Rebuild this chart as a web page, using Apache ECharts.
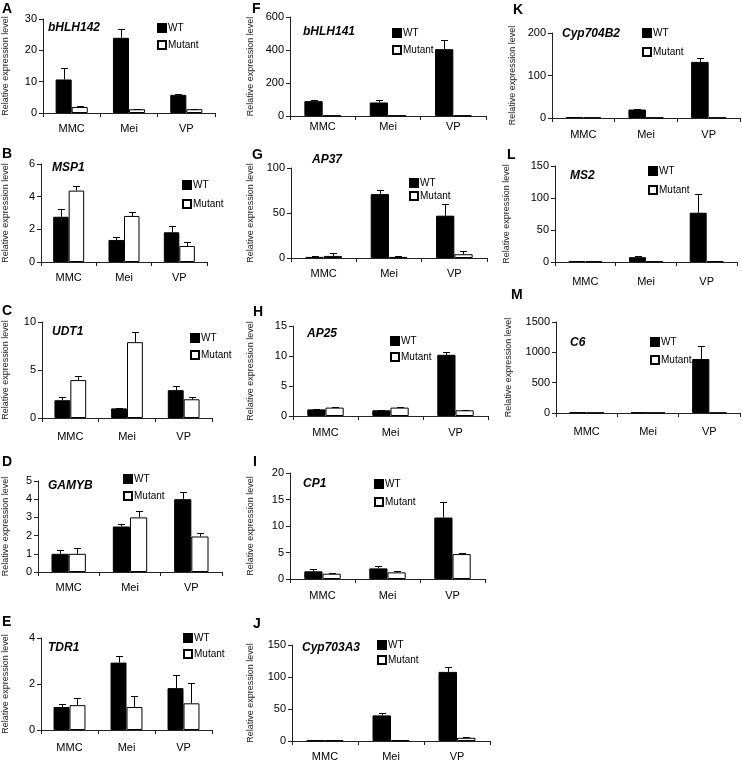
<!DOCTYPE html>
<html><head><meta charset="utf-8">
<script src="https://cdn.jsdelivr.net/npm/echarts@6/dist/echarts.min.js"></script>
<style>html,body{margin:0;padding:0;background:#fff}#c{width:742px;height:763px}</style>
</head><body><div id="c"></div><script>
// ---------- data ----------
const categories = ['MMC', 'Mei', 'VP'];
const seriesNames = ['WT', 'Mutant'];
const yAxisTitle = 'Relative expression level';

const A_gene = 'bHLH142';
const A_wt = [10.7, 24.0, 5.8];   const A_wtErr = [3.8, 2.7, 0.3];
const A_mut = [1.9, 1.2, 1.2];    const A_mutErr = [0.4, 0.1, 0.1];
const A_ticks = [0, 30, 10];

const B_gene = 'MSP1';
const B_wt = [2.77, 1.35, 1.82];  const B_wtErr = [0.45, 0.16, 0.38];
const B_mut = [4.37, 2.82, 0.98]; const B_mutErr = [0.3, 0.22, 0.22];
const B_ticks = [0, 6, 2];

const C_gene = 'UDT1';
const C_wt = [1.85, 1.0, 2.9];    const C_wtErr = [0.3, 0.08, 0.45];
const C_mut = [3.95, 7.9, 1.95];  const C_mutErr = [0.45, 1.05, 0.2];
const C_ticks = [0, 10, 5];

const D_gene = 'GAMYB';
const D_wt = [1.0, 2.5, 4.0];     const D_wtErr = [0.2, 0.15, 0.42];
const D_mut = [1.0, 3.0, 1.95];   const D_mutErr = [0.3, 0.37, 0.18];
const D_ticks = [0, 5, 1];

const E_gene = 'TDR1';
const E_wt = [1.0, 2.93, 1.82];   const E_wtErr = [0.12, 0.3, 0.58];
const E_mut = [1.08, 1.0, 1.16];  const E_mutErr = [0.3, 0.5, 0.87];
const E_ticks = [0, 4, 2];

const F_gene = 'bHLH141';
const F_wt = [90, 82, 405];       const F_wtErr = [5, 18, 58];
const F_mut = [3, 3, 3];          const F_mutErr = [0, 0, 0];
const F_ticks = [0, 600, 200];

const G_gene = 'AP37';
const G_wt = [1.2, 71, 47];       const G_wtErr = [0.8, 4.5, 12.5];
const G_mut = [2.3, 1.2, 4.2];    const G_mutErr = [3, 1.5, 4];
const G_ticks = [0, 100, 50];

const H_gene = 'AP25';
const H_wt = [1.1, 0.95, 10.2];   const H_wtErr = [0.05, 0.05, 0.5];
const H_mut = [1.4, 1.4, 0.95];   const H_mutErr = [0.05, 0.05, 0.12];
const H_ticks = [0, 15, 5];

const I_gene = 'CP1';
const I_wt = [1.45, 2.0, 11.6];   const I_wtErr = [0.35, 0.45, 2.9];
const I_mut = [1.0, 1.25, 4.7];   const I_mutErr = [0.05, 0.25, 0.3];
const I_ticks = [0, 20, 5];

const J_gene = 'Cyp703A3';
const J_wt = [1, 40, 108];        const J_wtErr = [0.3, 3, 8];
const J_mut = [1, 1, 5];          const J_mutErr = [0.2, 0.2, 2];
const J_ticks = [0, 150, 50];

const K_gene = 'Cyp704B2';
const K_wt = [2, 20, 132];        const K_wtErr = [0, 0.5, 9];
const K_mut = [1, 1, 1];          const K_mutErr = [0, 0, 0];
const K_ticks = [0, 200, 100];

const L_gene = 'MS2';
const L_wt = [1.5, 7.5, 77];      const L_wtErr = [0.2, 2, 30];
const L_mut = [1, 1, 1.2];        const L_mutErr = [0, 0, 0];
const L_ticks = [0, 150, 50];

const M_gene = 'C6';
const M_wt = [10, 8, 890];        const M_wtErr = [0, 0, 210];
const M_mut = [5, 5, 5];          const M_mutErr = [0, 0, 0];
const M_ticks = [0, 1500, 500];

// ---------- layout (positions only) ----------
const panels = [
  {L:'A', gene:A_gene, wt:A_wt, we:A_wtErr, mu:A_mut, me:A_mutErr, t:A_ticks, x0:39, x1:215, y1:19, y0:113, nx:6, lx:2, ly:9, gx:48, gy:28, lgx:157, lgy:28, lgs:17, cm:10},
  {L:'B', gene:B_gene, wt:B_wt, we:B_wtErr, mu:B_mut, me:B_mutErr, t:B_ticks, x0:36, x1:207, y1:164, y0:262, nx:5, lx:2, ly:154, gx:52, gy:168, lgx:182, lgy:185, lgs:19, cm:10},
  {L:'C', gene:C_gene, wt:C_wt, we:C_wtErr, mu:C_mut, me:C_mutErr, t:C_ticks, x0:37, x1:212, y1:322, y0:418, nx:5, lx:2, ly:311, gx:52, gy:332, lgx:190, lgy:338, lgs:17, cm:13},
  {L:'D', gene:D_gene, wt:D_wt, we:D_wtErr, mu:D_mut, me:D_mutErr, t:D_ticks, x0:33, x1:222, y1:481, y0:572, nx:5, lx:2, ly:462, gx:48, gy:486, lgx:123, lgy:479, lgs:17, cm:10},
  {L:'E', gene:E_gene, wt:E_wt, we:E_wtErr, mu:E_mut, me:E_mutErr, t:E_ticks, x0:35, x1:212, y1:638, y0:730, nx:4, lx:2, ly:622, gx:48, gy:648, lgx:183, lgy:638, lgs:16, cm:12},
  {L:'F', gene:F_gene, wt:F_wt, we:F_wtErr, mu:F_mut, me:F_mutErr, t:F_ticks, x0:290, x1:486, y1:17, y0:116, nx:255, lx:252, ly:9, gx:303, gy:32, lgx:392, lgy:33, lgs:17, cm:5},
  {L:'G', gene:G_gene, wt:G_wt, we:G_wtErr, mu:G_mut, me:G_mutErr, t:G_ticks, x0:291, x1:487, y1:168, y0:258, nx:255, lx:252, ly:155, gx:312, gy:160, lgx:409, lgy:183, lgs:13, cm:10},
  {L:'H', gene:H_gene, wt:H_wt, we:H_wtErr, mu:H_mut, me:H_mutErr, t:H_ticks, x0:293, x1:488, y1:326, y0:416, nx:255, lx:253, ly:312, gx:307, gy:334, lgx:390, lgy:341, lgs:16, cm:11},
  {L:'I', gene:I_gene, wt:I_wt, we:I_wtErr, mu:I_mut, me:I_mutErr, t:I_ticks, x0:290, x1:485, y1:473, y0:579, nx:255, lx:253, ly:462, gx:303, gy:484, lgx:374, lgy:484, lgs:18, cm:11},
  {L:'J', gene:J_gene, wt:J_wt, we:J_wtErr, mu:J_mut, me:J_mutErr, t:J_ticks, x0:292, x1:490, y1:645, y0:741, nx:255, lx:253, ly:624, gx:302, gy:648, lgx:377, lgy:645, lgs:15, cm:10},
  {L:'K', gene:K_gene, wt:K_wt, we:K_wtErr, mu:K_mut, me:K_mutErr, t:K_ticks, x0:552, x1:740, y1:33, y0:118, nx:517, lx:513, ly:10, gx:562, gy:34, lgx:642, lgy:33, lgs:19, cm:11},
  {L:'L', gene:L_gene, wt:L_wt, we:L_wtErr, mu:L_mut, me:L_mutErr, t:L_ticks, x0:555, x1:737, y1:166, y0:262, nx:511, lx:507, ly:155, gx:570, gy:176, lgx:648, lgy:171, lgs:19, cm:14},
  {L:'M', gene:M_gene, wt:M_wt, we:M_wtErr, mu:M_mut, me:M_mutErr, t:M_ticks, x0:556, x1:740, y1:322, y0:413, nx:513, lx:511, ly:295, gx:570, gy:343, lgx:650, lgy:342, lgs:18, cm:13}
];

const FONT = 'Arial, "Liberation Sans", sans-serif';
const GAP = 0.44;
function errRender(side) {
  return function (params, api) {
    const ci = api.value(0), v = api.value(1), e = api.value(2);
    if (!e) return null;
    const p0 = api.coord([ci, v]);
    const p1 = api.coord([ci, v + e]);
    const cw = api.size([1, 0])[0];
    const bw = cw * (1 - GAP) / 2;
    const x = Math.round(p0[0] + side * bw / 2) + 0.5;
    const yt = Math.round(p1[1]) + 0.5;
    return {type: 'group', children: [
      {type: 'line', shape: {x1: x, y1: p0[1], x2: x, y2: yt}, style: {stroke: '#000', lineWidth: 1}},
      {type: 'line', shape: {x1: x - 3.5, y1: yt, x2: x + 3.5, y2: yt}, style: {stroke: '#000', lineWidth: 1}}
    ]};
  };
}

const grid = [], xAxis = [], yAxis = [], series = [], legend = [], graphic = [];
panels.forEach((p, i) => {
  grid.push({left: p.x0, top: p.y1, width: p.x1 - p.x0, height: p.y0 - p.y1, containLabel: false});
  xAxis.push({type: 'category', gridIndex: i, data: categories,
    axisLine: {lineStyle: {color: '#222', width: 1}},
    axisTick: {show: true, length: 4, lineStyle: {color: '#222'}},
    axisLabel: {fontFamily: FONT, fontSize: 11, color: '#000', margin: p.cm}});
  yAxis.push({type: 'value', gridIndex: i, min: p.t[0], max: p.t[1], interval: p.t[2],
    name: yAxisTitle, nameLocation: 'middle', nameGap: p.x0 - p.nx,
    nameTextStyle: {fontFamily: FONT, fontSize: 9, color: '#222'},
    axisLine: {show: true, lineStyle: {color: '#222', width: 1}},
    axisTick: {show: true, length: 4, lineStyle: {color: '#222'}},
    splitLine: {show: false},
    axisLabel: {fontFamily: FONT, fontSize: 11, color: '#000', margin: 6, formatter: v => String(v)}});
  series.push({type: 'bar', name: seriesNames[0], xAxisIndex: i, yAxisIndex: i, data: p.wt,
    barGap: '0%', barCategoryGap: (GAP * 100) + '%',
    itemStyle: {color: '#000', borderColor: '#000', borderWidth: 1}});
  series.push({type: 'bar', name: seriesNames[1], xAxisIndex: i, yAxisIndex: i, data: p.mu,
    barGap: '0%', barCategoryGap: (GAP * 100) + '%',
    itemStyle: {color: '#fff', borderColor: '#000', borderWidth: 1}});
  series.push({type: 'custom', xAxisIndex: i, yAxisIndex: i, renderItem: errRender(-1),
    data: p.wt.map((v, k) => [k, v, p.we[k]]), z: 5});
  series.push({type: 'custom', xAxisIndex: i, yAxisIndex: i, renderItem: errRender(1),
    data: p.mu.map((v, k) => [k, v, p.me[k]]), z: 5});
  legend.push({left: p.lgx, top: p.lgy - 5, orient: 'vertical', padding: 0,
    itemWidth: 8, itemHeight: 8, itemGap: p.lgs - 10, icon: 'rect', selectedMode: false,
    data: seriesNames, textStyle: {fontFamily: FONT, fontSize: 10, color: '#000', padding: [0, 0, 0, -3]}});
  graphic.push({type: 'text', x: p.lx, y: p.ly, style: {text: p.L, font: 'bold 14px ' + FONT, fill: '#000', verticalAlign: 'middle'}});
  graphic.push({type: 'text', x: p.gx, y: p.gy, style: {text: p.gene, font: 'italic bold 12px ' + FONT, fill: '#000', verticalAlign: 'middle'}});
});

const chart = echarts.init(document.getElementById('c'));
chart.setOption({animation: false, backgroundColor: '#fff', grid, xAxis, yAxis, series, legend, graphic});
</script></body></html>
